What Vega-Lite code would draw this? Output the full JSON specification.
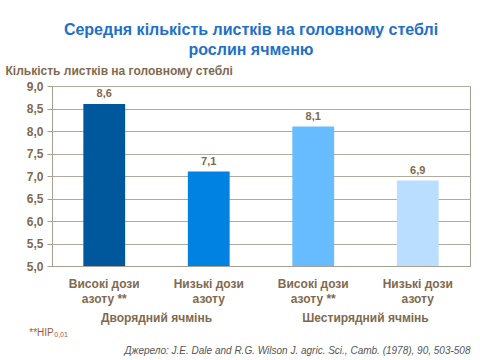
{
  "$schema": "https://vega.github.io/schema/vega-lite/v6.json",
  "autosize": {"type": "none"},
  "width": 418,
  "height": 180,
  "padding": {"left": 52, "top": 86, "right": 10, "bottom": 94},
  "background": "white",
  "title": {
    "text": ["Середня кількість листків на головному стеблі", "рослин ячменю"],
    "font": "Liberation Sans",
    "fontSize": 16,
    "fontWeight": "bold",
    "color": "#1F70C8",
    "anchor": "middle",
    "dx": -10,
    "offset": 6,
    "lineHeight": 20
  },
  "data": {
    "values": [
      {"cat": "a", "group": "Дворядний ячмінь", "value": 8.6},
      {"cat": "b", "group": "Дворядний ячмінь", "value": 7.1},
      {"cat": "c", "group": "Шестирядний ячмінь", "value": 8.1},
      {"cat": "d", "group": "Шестирядний ячмінь", "value": 6.9}
    ]
  },
  "encoding": {
    "x": {
      "field": "cat",
      "type": "nominal",
      "scale": {"paddingInner": 0.6, "paddingOuter": 0.3},
      "axis": {
        "title": "Джерело: J.E. Dale and R.G. Wilson J. agric. Sci., Camb. (1978), 90, 503-508",
        "titleFont": "Liberation Sans",
        "titleFontSize": 10,
        "titleFontStyle": "italic",
        "titleFontWeight": "normal",
        "titleColor": "#555555",
        "titleAnchor": "end",
        "titleAlign": "right",
        "titleX": 418,
        "titleY": 84,
        "titleBaseline": "middle",
        "labelExpr": "datum.value == 'a' || datum.value == 'c' ? ['Високі дози', 'азоту **'] : ['Низькі дози', 'азоту']",
        "labelAngle": 0,
        "labelFont": "Liberation Sans",
        "labelFontSize": 12,
        "labelFontWeight": "bold",
        "labelColor": "#7F6A50",
        "labelPadding": 12,
        "labelLineHeight": 15,
        "ticks": false,
        "domainColor": "#A89F91"
      }
    }
  },
  "layer": [
    {
      "mark": {"type": "bar"},
      "encoding": {
        "y": {
          "field": "value",
          "type": "quantitative",
          "scale": {"domain": [5, 9], "zero": false, "nice": false},
          "axis": {"values": [5, 5.5, 6, 6.5, 7, 7.5, 8, 8.5, 9], "title": "Кількість листків на головному стеблі"}
        },
        "y2": {"datum": 5},
        "color": {
          "field": "cat",
          "type": "nominal",
          "scale": {"domain": ["a", "b", "c", "d"], "range": ["#00589C", "#0082E2", "#66BCFF", "#B9DEFF"]},
          "legend": null
        }
      }
    },
    {
      "mark": {"type": "text", "baseline": "bottom", "dy": -5, "font": "Liberation Sans", "fontSize": 11, "fontWeight": "bold", "color": "#7F6A50"},
      "encoding": {
        "y": {"field": "value", "type": "quantitative", "axis": {"values": [5, 5.5, 6, 6.5, 7, 7.5, 8, 8.5, 9], "title": "Кількість листків на головному стеблі"}},
        "text": {"field": "value", "type": "quantitative", "format": ".1f"}
      }
    },
    {
      "transform": [{"filter": "datum.cat == 'a' || datum.cat == 'c'"}],
      "mark": {"type": "text", "baseline": "middle", "font": "Liberation Sans", "fontSize": 12, "fontWeight": "bold", "color": "#7F6A50"},
      "encoding": {
        "x": {"field": "cat", "type": "nominal", "bandPosition": 1.75},
        "y": {"datum": 3.84, "type": "quantitative", "axis": {"values": [5, 5.5, 6, 6.5, 7, 7.5, 8, 8.5, 9], "title": "Кількість листків на головному стеблі"}},
        "text": {"field": "group"}
      }
    },
    {
      "data": {"values": [{"cat": "a", "note": "**НІР", "sub": "0,01"}]},
      "mark": {"type": "text", "baseline": "middle", "align": "left", "font": "Liberation Sans", "fontSize": 10, "color": "#9C5B3B", "dx": -75},
      "encoding": {
        "y": {"datum": 3.52, "type": "quantitative", "axis": {"values": [5, 5.5, 6, 6.5, 7, 7.5, 8, 8.5, 9], "title": "Кількість листків на головному стеблі"}},
        "text": {"field": "note"}
      }
    },
    {
      "data": {"values": [{"cat": "a", "note": "**НІР", "sub": "0,01"}]},
      "mark": {"type": "text", "baseline": "middle", "align": "left", "font": "Liberation Sans", "fontSize": 7, "color": "#9C5B3B", "dx": -50, "dy": 2},
      "encoding": {
        "y": {"datum": 3.52, "type": "quantitative", "axis": {"values": [5, 5.5, 6, 6.5, 7, 7.5, 8, 8.5, 9], "title": "Кількість листків на головному стеблі"}},
        "text": {"field": "sub"}
      }
    }
  ],
  "config": {
    "locale": {"number": {"decimal": ",", "thousands": " ", "grouping": [3], "currency": ["", ""]}},
    "view": {"stroke": "#A89F91"},
    "axisY": {
      "titleFont": "Liberation Sans",
      "titleFontSize": 12,
      "titleFontWeight": "bold",
      "titleColor": "#7F6A50",
      "titleAngle": 0,
      "titleAlign": "left",
      "titleBaseline": "middle",
      "titleX": -47,
      "titleY": -16,
      "format": ".1f",
      "labelOverlap": false,
      "labelFont": "Liberation Sans",
      "labelFontSize": 12,
      "labelFontWeight": "bold",
      "labelColor": "#7F6A50",
      "labelPadding": 4,
      "tickColor": "#A89F91",
      "tickSize": 5,
      "domainColor": "#A89F91",
      "gridColor": "#B3AA9D",
      "grid": true,
      "gridWidth": 1
    }
  }
}
